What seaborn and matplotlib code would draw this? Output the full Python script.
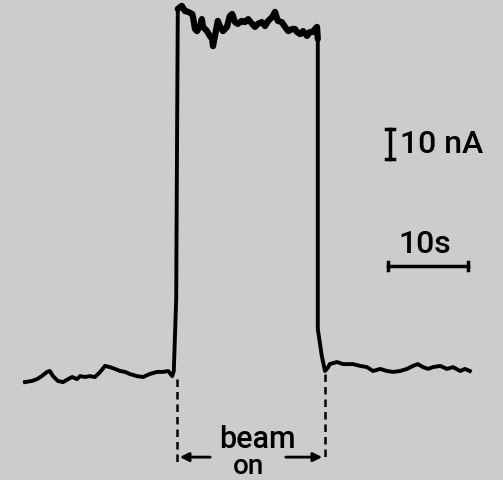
import matplotlib
matplotlib.use("Agg")
import matplotlib.pyplot as plt
import seaborn as sns
import pandas as pd

# trace: time (s) and current (nA)
time_s = [0, 0.9, 1.5, 2.1, 2.75, 3.1, 3.5, 4.1, 4.75, 5.4, 5.9, 6.5, 6.9, 7.5, 8.1, 8.75,
          9.4, 10.0, 10.6, 11.25, 11.9, 12.5, 13.1, 14.0, 14.75, 15.6, 16.5, 17.25, 17.9,
          18.4, 18.6, 18.9, 19.0, 19.1,
          19.4, 19.6, 20.0, 20.4, 20.9, 21.0, 21.25, 21.5, 21.9, 22.1, 22.25, 22.75, 23.1,
          23.4, 23.5, 23.75, 24.1, 24.4, 24.75, 25.25, 25.6, 25.9, 26.25, 26.6, 27.1, 27.5,
          27.9, 28.4, 28.75, 29.1, 29.6, 30.0, 30.4, 30.9, 31.25, 31.6, 32.1, 32.5, 32.9,
          33.4, 33.75, 34.0, 34.4, 34.75, 35.25, 35.6, 36.0, 36.25, 36.5,
          36.6, 36.6, 37.1, 37.5,
          37.9, 38.1, 39.0, 39.75, 41.0, 41.9, 42.75, 43.5, 44.4, 45.25, 46.0, 46.9, 47.75,
          48.5, 49.1, 49.75, 50.4, 51.0, 51.9, 52.75, 53.5, 54.4, 55.0, 55.6]
current_nA = [-1.7, -1.3, -0.7, 0.3, 1.7, 2.0, 0.3, -1.3, -1.7, -0.7, 0, -0.7, 0.3, 0, 0.3, 0,
              1.7, 3.7, 3.3, 2.7, 2.0, 1.7, 1.0, 0.3, 0, 1.0, 1.7, 1.7, 2.0,
              0.3, 2.0, 26, 76, 122.7,
              123.3, 123.7, 122.0, 121.7, 121.0, 120.0, 116.0, 115.3, 117.0, 119.3, 116.7, 115.3, 113.7,
              112.7, 110.3, 113.7, 118.7, 116.7, 115.3, 116.7, 120.3, 121.0, 118.3, 117.7, 118.7, 118.3,
              119.3, 117.7, 116.7, 117.7, 118.3, 117.0, 118.7, 120.0, 121.7, 118.7, 118.3, 116.7, 115.3,
              116.0, 116.0, 115.0, 114.3, 115.3, 113.7, 115.0, 115.0, 116.0, 116.7,
              112.7, 16, 7.0, 2.0,
              3.3, 4.3, 5.0, 4.3, 4.3, 3.7, 3.3, 2.0, 2.7, 2.0, 1.7, 2.0, 2.7,
              3.7, 4.3, 3.3, 2.7, 3.3, 3.7, 2.7, 3.3, 2.0, 2.7, 2.0]

beam_on_s = 19.0
beam_off_s = 37.5

df = pd.DataFrame({"t": time_s, "i": current_nA})

fig = plt.figure(figsize=(5.03, 4.81), dpi=100, facecolor="#cccccc")
ax = fig.add_axes([0, 0, 1, 1])
ax.set_facecolor("#cccccc")

sns.lineplot(data=df, x="t", y="i", sort=False, estimator=None,
             color="black", linewidth=2.8, ax=ax)

# plateau drawn a bit heavier, like the pen trace
top = df[(df.t >= 19.1) & (df.t <= 36.6) & (df.i > 100)]
ax.plot(top.t, top.i, color="black", linewidth=4.5, solid_capstyle="round")

# beam on / off markers
ax.plot([beam_on_s, beam_on_s], [-0.7, -29], color="black", lw=1.8, ls=(0, (3, 2)))
ax.plot([beam_off_s, beam_off_s], [1.0, -28], color="black", lw=1.8, ls=(0, (3, 2)))
ax.annotate("", xy=(beam_on_s, -26.7), xytext=(23.5, -26.7),
            arrowprops=dict(arrowstyle="-|>", color="black", lw=2, mutation_scale=13))
ax.annotate("", xy=(beam_off_s, -26.7), xytext=(32.25, -26.7),
            arrowprops=dict(arrowstyle="-|>", color="black", lw=2, mutation_scale=13))
txt = dict(family="Roboto", fontweight="medium", color="black")
ax.text(29.0, -20.5, "beam", ha="center", va="center", fontsize=22, **txt)
ax.text(27.9, -29.6, "on", ha="center", va="center", fontsize=20, **txt)

# scale bars
ax.plot([45.6, 45.6], [72.7, 82.7], color="black", lw=2.5)
ax.plot([45.1, 46.1], [82.7, 82.7], color="black", lw=2.5)
ax.plot([45.1, 46.1], [72.7, 72.7], color="black", lw=2.5)
ax.text(46.9, 77.7, "10 nA", ha="left", va="center", fontsize=23, **txt)

ax.plot([45.4, 55.4], [37, 37], color="black", lw=2.5)
ax.plot([45.4, 45.4], [35.7, 38.3], color="black", lw=2.5)
ax.plot([55.4, 55.4], [35.7, 38.3], color="black", lw=2.5)
ax.text(50.0, 44.5, "10s", ha="center", va="center", fontsize=23, **txt)

ax.set_xlim(-3.125, 59.75)
ax.set_ylim(-34.33, 126)
ax.axis("off")

fig.savefig("out.png", dpi=100, facecolor=fig.get_facecolor())
